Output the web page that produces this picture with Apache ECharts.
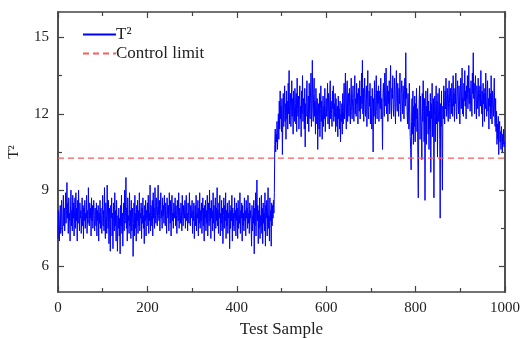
<!DOCTYPE html>
<html><head><meta charset="utf-8">
<script src="https://cdn.jsdelivr.net/npm/echarts@6/dist/echarts.min.js"></script>
<style>html,body{margin:0;padding:0;background:#fff}#c{width:522px;height:338px}</style>
</head><body><div id="c"></div>
<script>
const xTicksMajor = [0, 200, 400, 600, 800, 1000];
const yTicksMajor = [6, 9, 12, 15];
const yTicksMinor = [7.5, 10.5, 13.5];
const controlLimit = 10.26;
const seriesNames = ['T\u00b2', 'Control limit'];
const t2Values = [
7.1,8.2,7.6,7.0,7.9,8.4,7.3,7.8,8.6,7.5,7.2,8.1,8.8,7.6,8.3,7.4,8.0,8.9,7.7,8.2,
9.3,7.9,8.5,7.3,8.7,7.8,8.1,7.0,8.4,9.0,7.6,8.2,7.4,8.8,7.9,8.5,7.2,8.1,8.7,7.5,
8.9,7.8,8.3,7.0,8.6,7.7,9.0,8.1,7.4,8.5,7.9,8.2,7.3,8.0,8.7,7.6,8.4,7.1,8.3,7.8,
8.6,7.5,8.1,7.9,8.8,7.3,8.2,7.7,9.1,8.0,7.6,8.5,7.9,8.3,7.2,8.7,7.8,8.4,7.5,8.1,
8.6,7.9,7.4,8.3,8.0,7.6,8.5,7.2,8.2,7.8,8.4,7.0,8.1,7.7,8.6,7.5,8.3,7.9,7.3,8.0,
8.8,7.6,8.2,7.4,9.1,7.9,7.1,8.5,8.0,7.3,9.2,8.1,7.5,8.6,6.9,8.3,7.7,6.6,8.4,7.9,
8.7,7.2,8.1,6.7,8.5,7.8,7.4,8.9,7.6,8.2,7.0,8.6,7.7,6.6,8.0,7.5,8.3,7.2,7.9,6.5,
8.4,7.6,8.8,7.3,8.1,6.8,7.9,8.5,7.4,9.0,7.7,8.2,9.5,7.5,8.3,7.0,8.7,7.8,8.0,7.3,
8.9,7.6,8.2,7.1,8.6,7.4,7.9,8.3,6.4,7.7,8.5,7.2,8.8,7.5,8.1,7.0,8.4,7.8,8.6,7.3,
8.2,7.6,8.9,7.4,8.1,7.9,8.5,7.1,8.3,7.7,8.7,7.5,8.0,6.9,8.4,7.8,8.6,7.2,8.2,7.9,
8.5,7.6,8.8,7.3,8.1,7.8,9.2,7.4,8.4,8.0,7.6,8.6,7.2,8.9,7.9,8.3,7.5,9.1,8.0,7.7,
8.7,8.1,7.6,8.4,9.2,8.0,7.8,8.6,7.4,8.3,8.9,7.9,8.2,7.5,8.7,8.0,8.4,7.7,8.8,8.1,
7.6,8.5,8.0,7.3,8.7,8.2,7.9,8.4,7.4,8.9,8.1,7.7,8.6,7.2,8.3,8.8,7.8,8.1,7.5,8.5,
8.2,7.9,8.7,7.6,8.4,8.0,7.3,8.6,8.1,7.8,8.9,7.5,8.3,8.0,7.7,8.5,8.2,7.4,8.8,8.0,
7.6,8.4,8.1,7.9,8.6,7.5,8.3,8.8,7.8,8.1,7.4,8.5,8.0,7.7,8.9,8.2,7.6,8.4,7.9,8.1,
8.6,7.3,8.2,7.8,8.5,7.1,8.0,8.4,7.6,8.8,7.4,8.1,7.9,8.6,7.2,8.3,7.7,8.9,7.5,8.2,
7.8,8.5,7.3,8.1,8.7,7.6,8.3,7.0,8.4,7.9,8.6,7.4,8.2,7.7,8.8,7.2,8.0,8.5,7.6,9.0,
7.8,8.3,7.1,8.6,7.9,8.2,7.4,8.9,7.7,8.4,7.0,8.1,8.7,7.5,8.3,7.8,9.1,7.6,8.2,7.3,
8.5,7.9,8.8,7.2,8.1,7.7,8.6,7.4,8.3,6.9,8.0,8.7,7.5,8.4,7.8,8.9,7.1,8.2,7.6,8.5,
7.3,8.1,7.9,8.6,6.7,8.2,7.5,8.4,7.8,8.8,7.0,8.3,7.6,8.1,7.4,8.7,7.9,8.2,7.2,8.5,
7.8,8.3,7.1,8.6,7.5,8.0,7.7,8.9,7.3,8.2,7.9,8.5,7.0,8.4,7.6,8.1,7.4,8.7,7.8,8.2,
7.2,8.6,7.9,8.3,7.5,8.8,7.7,8.1,7.3,8.5,7.9,8.2,7.6,6.8,8.4,7.4,8.0,7.7,8.6,6.5,
8.3,7.6,8.9,7.2,8.1,9.4,7.8,8.4,6.9,8.2,7.5,8.7,7.1,8.0,7.6,8.8,7.3,8.3,6.9,8.5,
7.7,8.1,7.4,8.9,6.8,8.4,7.9,8.6,7.2,8.3,9.1,7.5,8.0,7.0,8.7,7.8,8.2,6.8,8.5,7.6,
8.4,7.9,8.6,8.1,8.9,10.8,11.4,10.5,11.2,10.9,11.7,10.6,11.3,12.0,11.0,12.5,11.4,12.9,11.8,12.3,
11.3,12.6,10.4,11.9,12.8,11.5,12.2,13.1,11.7,12.4,11.0,12.9,11.8,12.5,11.4,13.2,12.0,13.7,11.6,12.3,
12.8,11.5,12.1,13.3,11.9,12.6,11.2,12.9,12.3,11.7,13.0,12.4,11.6,12.8,11.3,13.4,12.2,11.9,12.7,11.4,
12.5,13.1,11.8,12.3,11.1,12.9,12.0,13.5,11.7,12.6,12.2,11.4,13.0,10.7,12.4,11.9,12.8,13.3,11.6,12.1,
12.7,11.3,13.2,12.0,11.8,12.9,13.6,11.5,12.4,14.1,12.2,11.7,12.8,13.4,11.9,12.5,11.2,13.0,12.3,11.6,
12.6,10.6,11.9,12.4,11.4,12.8,11.1,12.2,13.1,11.7,12.5,11.0,12.0,12.7,11.5,12.3,11.8,13.0,11.3,12.1,
12.6,11.9,12.3,13.2,11.6,12.8,12.1,11.4,12.7,13.3,11.8,12.5,12.0,11.5,12.9,12.2,13.1,11.7,12.4,11.9,
12.8,11.3,12.6,12.0,11.5,12.3,11.1,12.7,11.8,12.2,11.4,12.5,10.9,12.0,11.7,12.4,11.2,12.8,11.6,12.1,
13.2,11.8,12.5,13.6,12.0,11.4,12.9,13.3,11.7,12.4,12.8,11.9,13.0,12.2,11.6,12.7,13.4,12.1,11.8,12.6,
13.1,12.3,11.7,12.9,13.5,12.0,12.6,11.9,13.2,12.4,12.8,11.6,13.0,12.5,12.1,13.3,11.8,12.7,12.2,13.6,
12.4,14.1,12.0,13.0,11.7,12.6,13.4,12.2,11.9,12.8,13.1,11.5,12.5,13.7,12.1,11.8,12.9,12.3,13.2,11.6,
12.7,12.0,11.4,13.0,12.3,10.5,12.6,11.9,13.3,12.2,11.6,12.8,13.5,12.1,11.8,12.9,12.4,13.1,11.7,12.5,
12.9,12.2,13.4,11.8,12.6,12.1,10.6,12.8,13.2,12.4,11.9,13.6,12.3,12.7,13.8,12.0,12.5,13.1,11.7,12.9,
12.4,13.3,12.0,12.7,13.9,12.5,11.8,13.0,12.6,13.5,12.2,11.9,12.8,13.4,12.3,11.6,12.9,13.7,12.4,12.1,
13.2,12.6,11.9,13.0,12.4,13.6,12.1,11.7,12.8,13.3,12.5,12.0,13.1,12.7,11.8,12.9,13.4,12.3,14.4,12.6,
13.0,12.1,11.6,12.8,12.3,11.4,13.2,12.0,11.1,10.6,9.8,11.7,12.6,11.2,12.9,10.8,12.3,11.5,12.7,10.9,
12.4,11.8,13.0,11.3,12.2,10.4,8.7,11.6,12.5,13.1,11.0,12.7,12.0,11.4,10.2,12.8,11.7,13.3,12.1,10.9,
12.6,8.6,11.5,12.9,10.8,12.3,11.9,13.0,11.2,12.5,10.6,12.1,11.4,12.8,9.7,12.4,11.8,13.2,11.1,12.0,
12.6,8.7,11.9,12.7,10.9,12.3,13.1,11.6,12.5,10.3,12.8,11.7,12.2,13.0,11.0,7.9,12.4,11.5,12.9,10.6,
9.0,12.3,11.8,13.1,12.5,11.6,12.9,12.2,13.4,11.9,12.6,13.0,12.1,11.7,12.8,13.3,12.4,11.8,13.0,12.5,
12.0,13.2,12.6,11.9,13.5,12.3,12.8,11.7,13.0,12.4,13.6,12.1,11.8,12.9,13.3,12.5,12.0,13.1,12.7,11.6,
12.9,13.4,12.2,12.7,13.8,12.0,12.6,11.9,13.2,12.5,13.7,12.3,12.9,11.8,13.1,12.6,13.5,12.2,12.8,13.9,
12.4,13.0,12.1,12.7,13.3,12.5,11.9,13.6,12.8,14.4,12.6,13.2,12.0,12.9,13.5,12.3,11.8,13.1,12.7,12.2,
13.4,12.5,11.9,12.8,13.1,12.3,13.7,12.6,12.0,12.9,11.5,13.2,12.4,12.8,11.7,13.0,12.2,13.6,12.5,11.9,
12.7,13.3,12.1,12.6,11.4,13.0,12.3,12.8,11.8,13.5,12.2,11.6,12.9,12.4,11.9,12.7,13.4,12.0,11.5,12.6,
11.3,12.1,10.8,11.6,11.0,11.9,10.4,11.4,11.7,10.9,11.3,10.6,11.5,11.1,10.5,11.2,10.8,11.4,10.7,10.9
];
const xMin = 0, xMax = 1000, yMin = 5, yMax = 16;

const chart = echarts.init(document.getElementById('c'), null, {renderer: 'canvas'});
const serif = '"Liberation Serif", "Times New Roman", serif';
const axisCol = '#444';
const lineStyle = {color: axisCol, width: 1.5};
const t2Data = t2Values.map((v, i) => [i, v]);
function yAxisCfg(pos, vals, len, labels) {
  return {
    type: 'value', position: pos, min: yMin, max: yMax, gridIndex: 0,
    axisLine: {show: true, lineStyle: lineStyle},
    axisTick: {show: true, inside: true, length: len, customValues: vals, lineStyle: {color: axisCol, width: 1.2}},
    axisLabel: {show: labels, customValues: vals, fontFamily: serif, fontSize: 15, color: '#222', margin: 9},
    splitLine: {show: false},
    name: labels ? 'T\u00b2' : '', nameLocation: 'middle', nameGap: 36,
    nameTextStyle: {fontFamily: serif, fontSize: 15, color: '#222'}
  };
}
chart.setOption({
  animation: false,
  backgroundColor: '#fff',
  grid: {left: 58, right: 17, top: 12, bottom: 46, containLabel: false, outerBoundsMode: 'none'},
  legend: {
    orient: 'vertical', left: 77, top: 21, itemWidth: 33, itemHeight: 12, itemGap: 2,
    data: seriesNames,
    itemStyle: {color: 'rgba(0,0,0,0)', borderColor: 'rgba(0,0,0,0)', borderWidth: 0},
    textStyle: {fontFamily: serif, fontSize: 17, color: '#222', padding: [0, 0, 0, -5]}
  },
  xAxis: [
    {type: 'value', position: 'bottom', min: xMin, max: xMax, interval: 200,
     axisLine: {show: true, lineStyle: lineStyle},
     axisTick: {show: true, inside: true, length: 6, lineStyle: {color: axisCol, width: 1.2}},
     minorTick: {show: true, splitNumber: 2, length: 4, lineStyle: {color: axisCol, width: 1.2}},
     axisLabel: {fontFamily: serif, fontSize: 15, color: '#222', margin: 9, formatter: v => String(v)},
     splitLine: {show: false}, minorSplitLine: {show: false},
     name: 'Test Sample', nameLocation: 'middle', nameGap: 29,
     nameTextStyle: {fontFamily: serif, fontSize: 17, color: '#222'}},
    {type: 'value', position: 'top', min: xMin, max: xMax, interval: 200,
     axisLine: {show: true, lineStyle: lineStyle},
     axisTick: {show: true, inside: true, length: 6, lineStyle: {color: axisCol, width: 1.2}},
     minorTick: {show: true, splitNumber: 2, length: 4, lineStyle: {color: axisCol, width: 1.2}},
     axisLabel: {show: false}, splitLine: {show: false}}
  ],
  yAxis: [
    yAxisCfg('left', yTicksMajor, 6, true),
    yAxisCfg('left', yTicksMinor, 4, false),
    yAxisCfg('right', yTicksMajor, 6, false),
    yAxisCfg('right', yTicksMinor, 4, false)
  ],
  series: [
    {name: seriesNames[0], type: 'line', data: t2Data, showSymbol: false, symbol: 'none',
     lineStyle: {color: '#0000ff', width: 1}, itemStyle: {color: '#0000ff'}, z: 3},
    {name: seriesNames[1], type: 'line', data: [[xMin, controlLimit], [xMax, controlLimit]],
     showSymbol: false, symbol: 'none',
     lineStyle: {color: '#ff5a5a', width: 1.2, type: [6, 4]}, itemStyle: {color: '#ff5a5a'}, z: 4}
  ]
});
</script></body></html>
